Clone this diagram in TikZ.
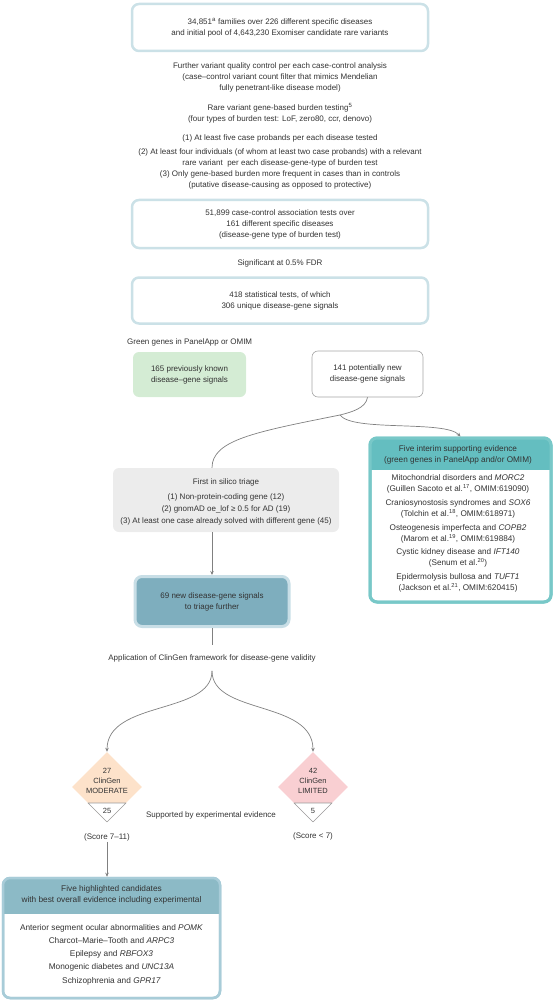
\documentclass[tikz,border=0pt]{standalone}
\usepackage{fontspec}
\setmainfont{Liberation Sans}
\usetikzlibrary{arrows.meta,shapes.geometric}
\definecolor{txt}{HTML}{333333}
\definecolor{boxline}{RGB}{203,225,231}
\definecolor{greenf}{RGB}{212,236,212}
\definecolor{grayf}{RGB}{236,236,236}
\definecolor{intline}{RGB}{120,200,200}
\definecolor{inthead}{RGB}{100,190,192}
\definecolor{tealf}{RGB}{126,174,190}
\definecolor{tealline}{RGB}{200,222,230}
\definecolor{botline}{RGB}{168,204,216}
\definecolor{bothead}{RGB}{140,186,198}
\definecolor{peach}{RGB}{253,226,202}
\definecolor{pink}{RGB}{249,207,210}
\definecolor{lineg}{RGB}{128,128,128}
\newcommand{\fsz}{\fontsize{8}{11}\selectfont}
\begin{document}
\begin{tikzpicture}[x=1pt,y=-1pt,
  every node/.style={font=\fsz, text=txt, inner sep=0pt, align=center},
  topbox/.style={draw=boxline, line width=2.5pt, rounded corners=7pt, fill=white, minimum width=296pt, minimum height=47pt},
  greenbox/.style={fill=greenf, rounded corners=6pt, minimum width=113pt, minimum height=45pt},
  whitebox/.style={draw=lineg!70, line width=0.6pt, rounded corners=6pt, fill=white, minimum width=111pt, minimum height=46pt},
  graybox/.style={fill=grayf, rounded corners=6pt, minimum width=226pt, minimum height=64pt},
  tealbox/.style={draw=tealline, line width=3pt, fill=tealf, rounded corners=7pt, minimum width=154pt, minimum height=50pt},
  conn/.style={draw=lineg, line width=0.7pt},
  arr/.style={conn, -{Stealth[length=4pt,width=3.5pt]}},
  dia/.style={diamond, shape aspect=1, minimum width=70pt, minimum height=70pt, inner sep=0pt},
  dtext/.style={font=\fontsize{7.5}{10}\selectfont},
  itext/.style={font=\fontsize{8.2}{11}\selectfont}
]
\useasboundingbox (0,0) rectangle (555,1000);

% top boxes and texts
\node[topbox] (b1) at (280,27.5) {34,851\textsuperscript{a} families over 226 different specific diseases\\and initial pool of 4,643,230 Exomiser candidate rare variants};
\node (t1) at (280,77) {Further variant quality control per each case-control analysis\\(case--control variant count filter that mimics Mendelian\\fully penetrant-like disease model)};
\node (t2) at (280,113.5) {Rare variant gene-based burden testing\textsuperscript{5}\\(four types of burden test: LoF, zero80, ccr, denovo)};
\node (t3) at (280,138) {(1) At least five case probands per each disease tested};
\node (t4) at (280,168.5) {(2) At least four individuals (of whom at least two case probands) with a relevant\\rare variant\ \ per each disease-gene-type of burden test\\(3) Only gene-based burden more frequent in cases than in controls\\(putative disease-causing as opposed to protective)};
\node[topbox, minimum height=48pt] (b2) at (280,224) {51,899 case-control association tests over\\161 different specific diseases\\(disease-gene type of burden test)};
\node (t5) at (280,263) {Significant at 0.5\% FDR};
\node[topbox, minimum height=46pt] (b3) at (280,300.5) {418 statistical tests, of which\\306 unique disease-gene signals};

\node[anchor=west] (gg) at (127,342) {Green genes in PanelApp or OMIM};
\node[greenbox] (known) at (189.5,374.5) {165 previously known\\disease--gene signals};
\node[whitebox] (new) at (367.5,374) {141 potentially new\\disease-gene signals};

% triage
\node[graybox] (tri) at (226,500) {};
\node (trih) at (226,482) {First in silico triage};
\node[font=\fontsize{8}{12}\selectfont] (tril) at (226,509) {(1) Non-protein-coding gene (12)\\(2) gnomAD oe\_lof ≥ 0.5 for AD (19)\\(3) At least one case already solved with different gene (45)};

% interim box
\node[draw=intline, line width=3pt, rounded corners=7pt, fill=white, minimum width=181pt, minimum height=164pt] (int) at (460.5,520) {};
\begin{scope}
  \clip[rounded corners=7pt] (370,438) rectangle (551,602);
  \fill[inthead] (370,438) rectangle (551,470);
\end{scope}
\draw[intline, line width=3pt, rounded corners=7pt] (370,438) rectangle (551,602);
\node[itext] (inth) at (458,454.5) {Five interim supporting evidence\\(green genes in PanelApp and/or OMIM)};
\node[itext] (i1) at (458,483.5) {Mitochondrial disorders and \textit{MORC2}\\(Guillen Sacoto et al.\textsuperscript{17}, OMIM:619090)};
\node[itext] (i2) at (458,508.5) {Craniosynostosis syndromes and \textit{SOX6}\\(Tolchin et al.\textsuperscript{18}, OMIM:618971)};
\node[itext] (i3) at (458,533.5) {Osteogenesis imperfecta and \textit{COPB2}\\(Marom et al.\textsuperscript{19}, OMIM:619884)};
\node[itext] (i4) at (458,557.5) {Cystic kidney disease and \textit{IFT140}\\(Senum et al.\textsuperscript{20})};
\node[itext] (i5) at (458,582.5) {Epidermolysis bullosa and \textit{TUFT1}\\(Jackson et al.\textsuperscript{21}, OMIM:620415)};

% teal box
\node[tealbox] (t69) at (212,601.5) {69 new disease-gene signals\\to triage further};

% connectors from new signals
\coordinate (split) at (340,415);
\draw[conn] (new.south) .. controls (366,408) and (352,412) .. (split);
\draw[conn] (split) .. controls (255,432) and (212,440) .. (tri.north -| t69.north);
\draw[arr] (split) .. controls (352,432) and (445,420) .. (int.north);

\draw[arr] (tri.south -| t69.north) -- (t69.north);
\node[inner ysep=9pt] (app) at (212,658) {Application of ClinGen framework for disease-gene validity};
\draw[conn] (t69.south) -- (app.north);

% diamonds
\node[dia, fill=peach] (dm) at (107,787) {};
\node[dia, fill=pink] (dl) at (313,787) {};
\fill[white] (88,803) -- (126,803) -- (107,822) -- cycle;
\draw[lineg!80, line width=0.6pt, line join=round] (88,803) -- (126,803) -- (107,822) -- cycle;
\fill[white] (294,803) -- (332,803) -- (313,822) -- cycle;
\draw[lineg!80, line width=0.6pt, line join=round] (294,803) -- (332,803) -- (313,822) -- cycle;
\node[dtext] (dmt) at (107,781) {27\\ClinGen\\MODERATE};
\node[dtext] (dlt) at (313,781) {42\\ClinGen\\LIMITED};
\node[dtext] (dmn) at (107,811) {25};
\node[dtext] (dln) at (313,811) {5};
\draw[arr] (app.south) .. controls (212,715) and (107,700) .. (dm.north);
\draw[arr] (app.south) .. controls (212,715) and (313,700) .. (dl.north);
\node (sup) at (211,815) {Supported by experimental evidence};
\node (sm) at (107,837) {(Score 7--11)};
\node (sl) at (313,836) {(Score < 7)};

% bottom box
\node[draw=botline, line width=2.5pt, rounded corners=7pt, fill=white, minimum width=217pt, minimum height=120pt] (cand) at (111.5,938) {};
\begin{scope}
  \clip[rounded corners=7pt] (3,878) rectangle (220,998);
  \fill[bothead] (3,878) rectangle (220,914);
\end{scope}
\draw[botline, line width=2.5pt, rounded corners=7pt] (3,878) rectangle (220,998);
\node[font=\fontsize{8.3}{11}\selectfont] (ch) at (111.5,895) {Five highlighted candidates\\with best overall evidence including experimental};
\node[font=\fontsize{8.3}{13.3}\selectfont] (cl) at (111.5,954.5) {Anterior segment ocular abnormalities and \textit{POMK}\\Charcot--Marie--Tooth and \textit{ARPC3}\\Epilepsy and \textit{RBFOX3}\\Monogenic diabetes and \textit{UNC13A}\\Schizophrenia and \textit{GPR17}};
\draw[arr] (sm.south) ++(0,1) -- (sm.south |- cand.north);
\end{tikzpicture}
\end{document}
